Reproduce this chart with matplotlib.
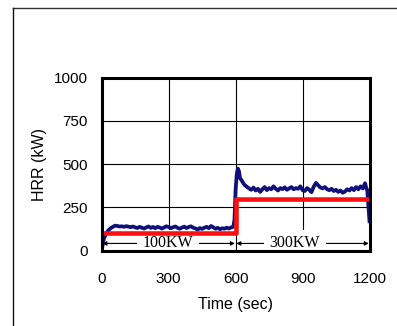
import matplotlib
matplotlib.use("Agg")
import matplotlib.pyplot as plt
from matplotlib.lines import Line2D

# Measured HRR (blue)
time_s = [0, 5, 10, 20, 30, 40, 50, 60, 70, 80, 90, 100, 110, 120, 130, 140, 150, 160, 170,
          180, 190, 200, 210, 220, 230, 240, 250, 260, 270, 280, 290, 300, 310, 320, 330,
          340, 350, 360, 370, 380, 390, 400, 410, 420, 430, 440, 450, 460, 470, 480, 490,
          500, 510, 520, 530, 540, 550, 560, 570, 580, 590, 595, 600, 605, 610, 615, 620,
          630, 640, 650, 660, 670, 680, 690, 700, 710, 720, 730, 740, 750, 760, 770, 780,
          790, 800, 810, 820, 830, 840, 850, 860, 870, 880, 890, 900, 910, 920, 930, 940,
          950, 960, 970, 980, 990, 1000, 1010, 1020, 1030, 1040, 1050, 1060, 1070, 1080,
          1090, 1100, 1110, 1120, 1130, 1140, 1150, 1160, 1170, 1180, 1185, 1190, 1195, 1200]
hrr_kw = [0, 40, 70, 100, 118, 130, 138, 145, 143, 140, 141, 138, 142, 139, 136, 140, 135,
          131, 138, 133, 128, 135, 140, 132, 137, 130, 138, 134, 128, 135, 141, 137, 130,
          136, 140, 132, 127, 134, 139, 131, 137, 141, 133, 129, 122, 131, 126, 133, 138,
          130, 143, 135, 127, 132, 124, 130, 127, 133, 128, 135, 138, 180, 350, 440, 475,
          460, 420, 400, 380, 370, 360, 352, 365, 348, 358, 340, 355, 368, 350, 362, 355,
          372, 358, 348, 362, 356, 366, 352, 360, 368, 355, 362, 358, 372, 350, 345, 362,
          352, 338, 370, 392, 378, 365, 360, 368, 355, 350, 358, 345, 352, 340, 348, 335,
          342, 355, 348, 362, 350, 368, 355, 372, 360, 390, 365, 350, 260, 170]

# Target HRR (red step)
target_time = [0, 600, 600, 1200]
target_hrr = [100, 100, 300, 300]

x_ticks = [0, 300, 600, 900, 1200]
y_ticks = [0, 250, 500, 750, 1000]
phase_labels = ["100KW", "300KW"]
phase_bounds = [(0, 600), (600, 1200)]
phase_text_x = [297, 866]

fig = plt.figure(figsize=(3.97, 3.26), dpi=100)
plt.rcParams['font.family'] = ['Liberation Sans', 'DejaVu Sans']

# outer frame lines
fig.add_artist(Line2D([13/397, 1.0], [1-8/326, 1-8/326], transform=fig.transFigure,
                      color='#333333', lw=1.0))
fig.add_artist(Line2D([13/397, 13/397], [0, 1-8/326], transform=fig.transFigure,
                      color='#111111', lw=1.0))

ax = fig.add_axes([101.7/397, (326-250.7)/326, 267.8/397, 173/326])
ax.plot(time_s, hrr_kw, color='#10107a', lw=2.7, zorder=3)
ax.plot(target_time, target_hrr, color='#ff1010', lw=3.3, zorder=4)

ax.set_xlim(0, 1200)
ax.set_ylim(0, 1000)
ax.set_xticks(x_ticks)
ax.set_yticks(y_ticks)
ax.grid(True, color='black', lw=0.8)
ax.tick_params(direction='in', length=0, labelsize=11)
ax.tick_params(axis='x', pad=15)
ax.tick_params(axis='y', pad=10)
for s in ax.spines.values():
    s.set_linewidth(2.2)
    s.set_zorder(5)

for (a, b), lab, tx in zip(phase_bounds, phase_labels, phase_text_x):
    ax.annotate('', xy=(a + 3, 42), xytext=(b - 3, 42),
                arrowprops=dict(arrowstyle='<|-|>', color='black', lw=0.8,
                                mutation_scale=6, shrinkA=0, shrinkB=0), zorder=2)
    ax.text(tx, 42, lab, ha='center', va='center', fontsize=11.5,
            family=['Liberation Serif'],
            bbox=dict(facecolor='white', edgecolor='none', pad=4), zorder=2.5)

ax.set_xlabel('Time (sec)', fontsize=11.5, labelpad=8)
ax.set_ylabel('HRR (kW)', fontsize=11.5, labelpad=5)

fig.savefig('out.png', dpi=100)
